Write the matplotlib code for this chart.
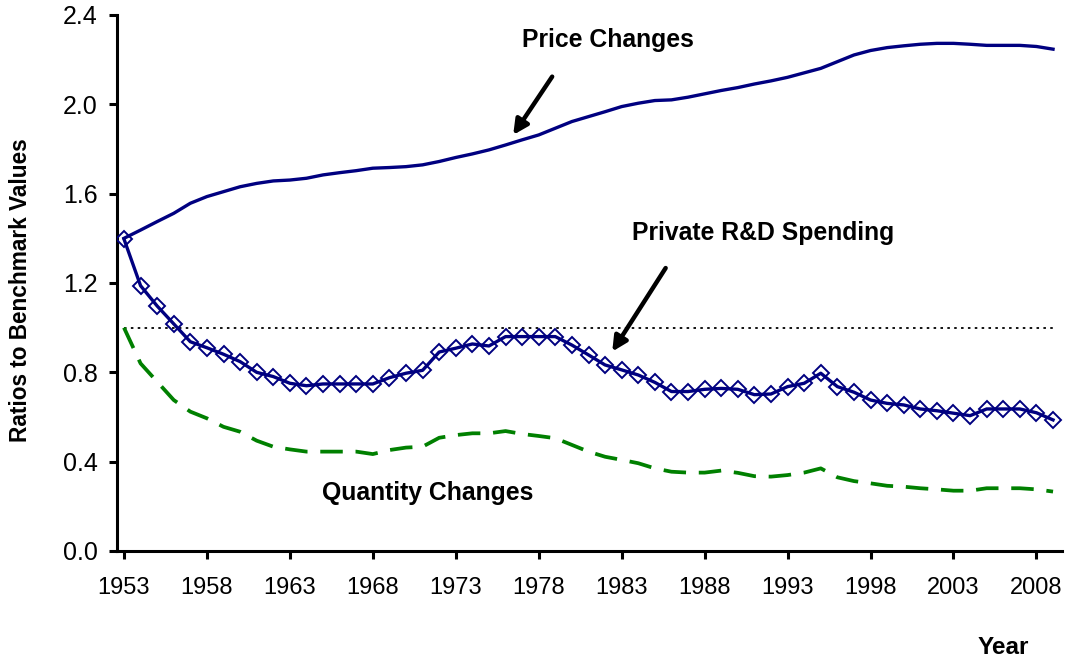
import matplotlib
matplotlib.use("Agg")
import matplotlib.pyplot as plt
import numpy as np

plt.rcParams['font.family'] = ['Liberation Sans', 'DejaVu Sans']

years = list(range(1953, 2010))

price = [1.40, 1.437, 1.475, 1.512, 1.557, 1.587, 1.609, 1.631, 1.646, 1.657,
         1.661, 1.669, 1.684, 1.694, 1.703, 1.714, 1.717, 1.721, 1.729, 1.744,
         1.762, 1.778, 1.796, 1.818, 1.841, 1.863, 1.893, 1.923, 1.945, 1.967,
         1.990, 2.005, 2.017, 2.020, 2.032, 2.047, 2.062, 2.075, 2.091, 2.105,
         2.121, 2.141, 2.161, 2.191, 2.221, 2.241, 2.254, 2.262, 2.269, 2.273,
         2.273, 2.269, 2.264, 2.264, 2.264, 2.259, 2.247]

rd_spending = [1.397, 1.188, 1.097, 1.017, 0.937, 0.910, 0.881, 0.848, 0.800, 0.781,
               0.751, 0.740, 0.748, 0.748, 0.748, 0.748, 0.776, 0.796, 0.809, 0.891,
               0.908, 0.927, 0.918, 0.960, 0.960, 0.960, 0.960, 0.922, 0.878, 0.833,
               0.811, 0.788, 0.755, 0.714, 0.714, 0.724, 0.728, 0.724, 0.700, 0.703,
               0.736, 0.751, 0.796, 0.736, 0.711, 0.676, 0.661, 0.654, 0.636, 0.628,
               0.617, 0.606, 0.636, 0.636, 0.636, 0.619, 0.587]

quantity = [1.00, 0.84, 0.758, 0.676, 0.624, 0.594, 0.556, 0.534, 0.494, 0.467,
            0.455, 0.445, 0.445, 0.445, 0.445, 0.434, 0.452, 0.463, 0.467, 0.507,
            0.519, 0.527, 0.527, 0.537, 0.524, 0.515, 0.505, 0.475, 0.445, 0.422,
            0.408, 0.393, 0.370, 0.355, 0.351, 0.351, 0.360, 0.350, 0.335, 0.333,
            0.340, 0.351, 0.370, 0.330, 0.313, 0.303, 0.292, 0.288, 0.281, 0.276,
            0.270, 0.270, 0.281, 0.281, 0.281, 0.276, 0.266]

benchmark = [1.0] * len(years)

xtick_years = list(range(1953, 2009, 5))
ytick_vals = [0.0, 0.4, 0.8, 1.2, 1.6, 2.0, 2.4]

navy = '#000080'
green = '#008000'

fig = plt.figure(figsize=(10.70, 6.66), dpi=100)
ax = fig.add_axes([117/1070, 1-551/666, (1062-117)/1070, (551-15)/666])

ax.plot(years, benchmark, color='black', lw=1.3, linestyle=(0, (1.4, 2.4)), zorder=1)
ax.plot(years, quantity, color=green, lw=2.7, linestyle=(0, (6.0, 3.4)), zorder=2)
ax.plot(years, price, color=navy, lw=2.4, zorder=3, solid_joinstyle='round')
ax.plot(years, rd_spending, color=navy, lw=2.4, marker='D', markersize=8,
        markerfacecolor='none', markeredgecolor=navy, markeredgewidth=1.4, zorder=4)

ax.set_xlim(1952.58, 2009.54)
ax.set_ylim(0, 2.4)
ax.set_xticks(xtick_years)
ax.set_xticklabels([str(y) for y in xtick_years])
ax.set_yticks(ytick_vals)
ax.set_yticklabels([f"{v:.1f}" for v in ytick_vals])

for s in ['top', 'right']:
    ax.spines[s].set_visible(False)
for s in ['left', 'bottom']:
    ax.spines[s].set_linewidth(2.2)
    ax.spines[s].set_color('black')

ax.tick_params(axis='x', direction='out', length=6, width=2.2, labelsize=17, pad=13)
ax.tick_params(axis='y', direction='out', length=6, width=2.2, labelsize=18, pad=8)

fig.text(21/1070, 1-290/666, 'Ratios to Benchmark Values', rotation=90,
         ha='center', va='center', fontsize=16.3, fontweight='bold')
fig.text(1003/1070, 1-648/666, 'Year', ha='center', va='center',
         fontsize=17.5, fontweight='bold')

ax.text(1982.15, 2.288, 'Price Changes', ha='center', va='center',
        fontsize=17.8, fontweight='bold')
ax.text(1991.53, 1.424, 'Private R&D Spending', ha='center', va='center',
        fontsize=17.8, fontweight='bold')
ax.text(1971.32, 0.26, 'Quantity Changes', ha='center', va='center',
        fontsize=17.8, fontweight='bold')

arrow_kw = dict(arrowstyle='-|>', color='black', lw=3.2, mutation_scale=22,
                shrinkA=0, shrinkB=0)
ax.annotate('', xy=(1976.46, 1.863), xytext=(1978.81, 2.124), arrowprops=arrow_kw)
ax.annotate('', xy=(1982.43, 0.893), xytext=(1985.65, 1.267), arrowprops=arrow_kw)

fig.savefig('out.png', dpi=100)
